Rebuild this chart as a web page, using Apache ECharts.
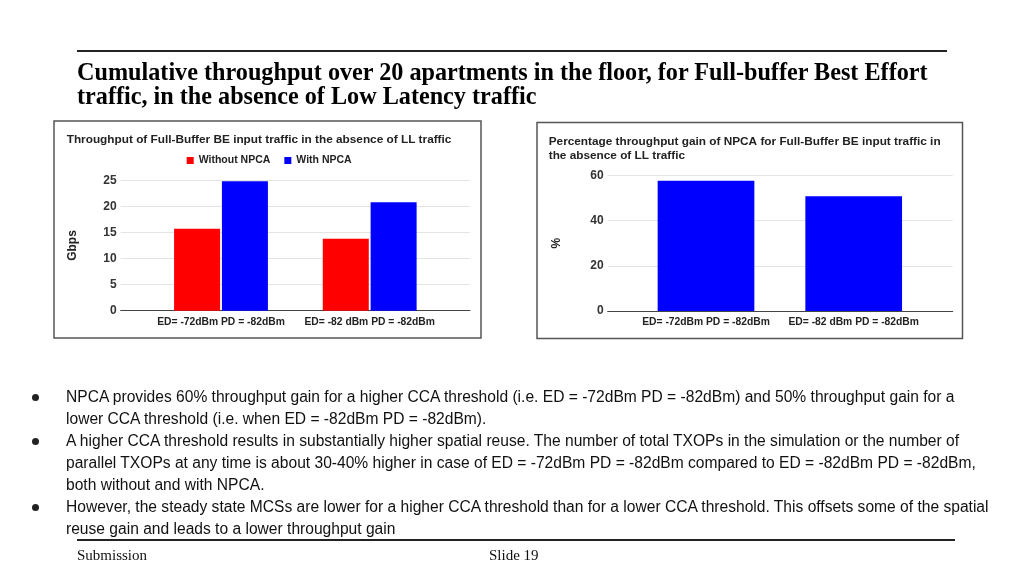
<!DOCTYPE html>
<html>
<head>
<meta charset="utf-8">
<script src="https://cdn.jsdelivr.net/npm/echarts@6/dist/echarts.min.js"></script>
<style>
  html, body { margin:0; padding:0; background:#fff; }
  #page { position:relative; width:1024px; height:576px; overflow:hidden; background:#fff; }
  #chart { position:absolute; left:0; top:0; width:1024px; height:576px; }
  .rule { position:absolute; background:#222; }
  .head { position:absolute; left:77px; top:60px; font-family:"Liberation Serif","Times New Roman",serif; font-weight:bold; font-size:24.2px; line-height:24px; color:#000; white-space:nowrap; }
  .bullets { position:absolute; left:0; top:386px; font-family:"Liberation Sans",Arial,sans-serif; font-size:15.6px; line-height:22px; color:#111; white-space:nowrap; }
  .b { position:relative; padding-left:66px; }
  .b .dot { position:absolute; left:32px; top:8px; width:7px; height:7px; border-radius:50%; background:#222; }
  .foot { position:absolute; top:546px; font-family:"Liberation Serif","Times New Roman",serif; font-size:15px; line-height:18px; color:#111; }
</style>
</head>
<body>
<div id="page">
  <div id="chart"></div>
  <div class="rule" style="left:77px; top:50px; width:870px; height:2px;"></div>
  <div class="head">Cumulative throughput over 20 apartments in the floor, for Full-buffer Best Effort<br>traffic, in the absence of Low Latency traffic</div>
  <div class="bullets">
    <div class="b"><span class="dot"></span>NPCA provides 60% throughput gain for a higher CCA threshold (i.e. ED = -72dBm PD = -82dBm) and 50% throughput gain for a<br>lower CCA threshold (i.e. when ED = -82dBm PD = -82dBm).</div>
    <div class="b"><span class="dot"></span>A higher CCA threshold results in substantially higher spatial reuse. The number of total TXOPs in the simulation or the number of<br>parallel TXOPs at any time is about 30-40% higher in case of ED = -72dBm PD = -82dBm compared to ED = -82dBm PD = -82dBm,<br>both without and with NPCA.</div>
    <div class="b"><span class="dot"></span>However, the steady state MCSs are lower for a higher CCA threshold than for a lower CCA threshold. This offsets some of the spatial<br>reuse gain and leads to a lower throughput gain</div>
  </div>
  <div class="rule" style="left:77px; top:539px; width:878px; height:2px;"></div>
  <div class="foot" style="left:77px;">Submission</div>
  <div class="foot" style="left:489px;">Slide 19</div>
</div>
<script>
// ---- data ----
const categories = ['ED= -72dBm PD = -82dBm', 'ED= -82 dBm PD = -82dBm'];
const seriesNames = ['Without NPCA', 'With NPCA'];
const withoutNPCA = [15.7, 13.8];
const withNPCA = [24.8, 20.8];
const gainPercent = [57.6, 50.7];
const leftTitle = 'Throughput of Full-Buffer BE input traffic in the absence of LL traffic';
const rightTitle = 'Percentage throughput gain of NPCA for Full-Buffer BE input traffic in\nthe absence of LL traffic';

const FONT = '"Liberation Sans", Arial, sans-serif';
const txt = (size, extra) => Object.assign({ fontFamily: FONT, fontWeight: 'bold', fontSize: size, color: '#222' }, extra || {});

const baseX = (gi) => ({
  gridIndex: gi, type: 'value', min: 0, max: 1,
  axisLine: { show: true, onZero: false, lineStyle: { color: '#444', width: 1 } },
  axisTick: { show: false }, axisLabel: { show: false }, splitLine: { show: false }
});
const catX = (gi) => ({
  gridIndex: gi, type: 'category', data: categories,
  axisLine: { show: false }, axisTick: { show: false },
  axisLabel: Object.assign({ margin: 6, interval: 0 }, txt(10.3))
});
const gridY = (gi, max, interval, name, gap) => ({
  gridIndex: gi, type: 'value', min: 0, max: max, interval: interval,
  name: name, nameLocation: 'middle', nameRotate: 90, nameGap: gap,
  nameTextStyle: txt(12),
  axisLine: { show: false }, axisTick: { show: false },
  axisLabel: Object.assign({ margin: 4 }, txt(12, { color: '#333' })),
  splitLine: { lineStyle: { color: '#e4e4e4', width: 1 } }
});
const hiddenY = (gi, max) => ({ gridIndex: gi, type: 'value', min: 0, max: max, show: false, splitLine: { show: false } });

const chart = echarts.init(document.getElementById('chart'), null, { renderer: 'canvas' });
chart.setOption({
  animation: false,
  title: [
    { text: leftTitle, left: 66.7, top: 134, padding: 0, textStyle: txt(11.8) },
    { text: rightTitle, left: 548.7, top: 134, padding: 0, textStyle: txt(11.8, { lineHeight: 14.7 }) }
  ],
  legend: {
    data: seriesNames, left: 186.7, top: 155, padding: 0,
    icon: 'rect', itemWidth: 7, itemHeight: 7, itemGap: 14,
    textStyle: txt(10.5)
  },
  grid: [
    { left: 120.7, width: 349.3, top: 180.3, height: 130.4 },
    { left: 146.65, width: 297.4, top: 180.3, height: 130.4 },
    { left: 607.7, width: 345, top: 175.3, height: 135.7 },
    { left: 632.15, width: 295.4, top: 175.3, height: 135.7 }
  ],
  xAxis: [ baseX(0), catX(1), baseX(2), catX(3) ],
  yAxis: [
    gridY(0, 25, 5, 'Gbps', 42),
    hiddenY(1, 25),
    gridY(2, 60, 20, '%', 45),
    hiddenY(3, 60)
  ],
  series: [
    { type: 'bar', name: seriesNames[0], xAxisIndex: 1, yAxisIndex: 1, data: withoutNPCA,
      barWidth: 46, barGap: '4%', itemStyle: { color: '#ff0000' } },
    { type: 'bar', name: seriesNames[1], xAxisIndex: 1, yAxisIndex: 1, data: withNPCA,
      barWidth: 46, barGap: '4%', itemStyle: { color: '#0000ff' } },
    { type: 'bar', name: 'Gain', xAxisIndex: 3, yAxisIndex: 3, data: gainPercent,
      barWidth: 96.7, itemStyle: { color: '#0000ff' } }
  ],
  graphic: [
    { type: 'rect', shape: { x: 54, y: 121, width: 427, height: 217 }, style: { fill: 'none', stroke: '#555', lineWidth: 1.5 }, silent: true },
    { type: 'rect', shape: { x: 537, y: 122.5, width: 425.5, height: 216 }, style: { fill: 'none', stroke: '#555', lineWidth: 1.5 }, silent: true }
  ]
});
</script>
</body>
</html>
